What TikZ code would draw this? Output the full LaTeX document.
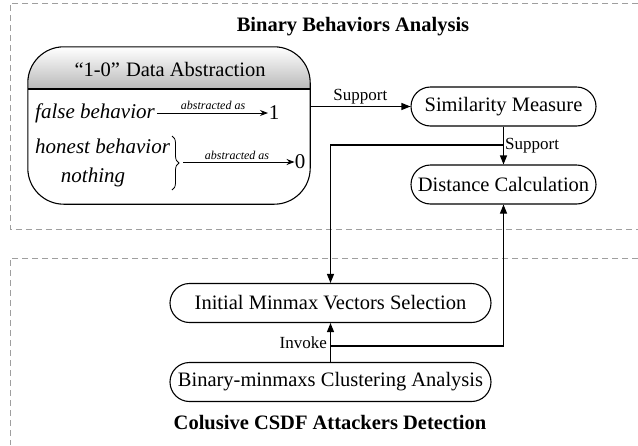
\documentclass[tikz,border=0pt]{standalone}
\usepackage{fontspec}
\setmainfont{Liberation Serif}
\usetikzlibrary{arrows.meta,decorations.pathreplacing}
\begin{document}
\begin{tikzpicture}[x=1pt,y=-1pt,
  pill/.style={draw,line width=1.1pt,rounded corners=19.5pt,minimum width=185pt,minimum height=39pt,inner sep=0pt,font=\fontsize{20.5}{24}\selectfont},
  widepill/.style={pill,minimum width=321pt},
  arr/.style={line width=1.1pt,-{Triangle[length=9pt,width=7pt]}},
  sarr/.style={line width=0.9pt,-{Stealth[length=8pt,width=6pt]}},
  lbl/.style={font=\fontsize{17}{20}\selectfont,inner sep=1pt},
  tiny/.style={font=\fontsize{12}{14}\itshape\selectfont,inner sep=1pt},
  itx/.style={font=\fontsize{21}{24}\itshape\selectfont,inner sep=0pt},
  ttl/.style={font=\fontsize{20.5}{24}\bfseries\selectfont},
  grp/.style={draw=gray!75,dash pattern=on 6pt off 4pt,line width=0.9pt}]
\useasboundingbox (0,0) rectangle (638,445);
% dashed groups
\draw[grp] (638,3) -- (10,3) -- (10,229) -- (638,229);
\draw[grp] (638,258) -- (10,258) -- (10,445);
\node[ttl] (t1) at (353,27) {Binary Behaviors Analysis};
\node[ttl] (t2) at (330,423) {Colusive CSDF Attackers Detection};
% 1-0 box
\node[minimum width=282pt,minimum height=157pt,inner sep=0pt] (abs) at (169,125.5) {};
\begin{scope}
\clip[rounded corners=36pt] (abs.north west) rectangle (abs.south east);
\shade[top color=white,bottom color=gray!55] (28,47) rectangle (310,89);
\end{scope}
\draw[line width=1.1pt] (28,89) -- (310,89);
\draw[line width=1.1pt,rounded corners=36pt] (abs.north west) rectangle (abs.south east);
\node[font=\fontsize{20.5}{24}\selectfont] (hd) at (170,69) {“1-0”\hspace{6pt}Data Abstraction};
\node[itx,anchor=west] (fb) at (35,113) {false behavior};
\node[font=\fontsize{21}{24}\selectfont,inner sep=0pt] (one) at (274,113) {1};
\draw[sarr] (fb.east) ++(2,0) coordinate (fbs) -- (268,113) coordinate (fbe);
\node[tiny] (a1) at (213,105) {abstracted as};
\node[itx,anchor=west] (hb) at (35,146) {honest behavior};
\node[itx] (no) at (93,177) {nothing};
\draw[line width=0.8pt,decorate,decoration={brace,amplitude=7pt}] (172,136) coordinate (br1) -- (172,190) coordinate (br2);
\node[font=\fontsize{21}{24}\selectfont,inner sep=0pt] (zero) at (300,162) {0};
\draw[sarr] (183,162) coordinate (zs) -- (zero.west);
\node[tiny] (a2) at (237,155) {abstracted as};
% right nodes
\node[pill] (sim) at (503.5,106.5) {Similarity Measure};
\node[pill] (dist) at (503.5,184.5) {Distance Calculation};
\node[widepill] (init) at (330.5,303) {Initial Minmax Vectors Selection};
\node[widepill] (bin) at (330.5,382) {Binary-minmaxs Clustering Analysis};
% connectors
\draw[arr] (abs.east |- sim.west) -- (sim.west) node[lbl,midway,above=1pt] {Support};
\draw[arr] (sim) -- (dist);
\node[lbl,anchor=west] (s2) at (504,146) {Support};
\coordinate (j1) at (503.5,145);
\draw[arr] (j1) -| (init.north);
\draw[arr] (bin) -- (init);
\node[lbl,anchor=east] (inv) at (328,343) {Invoke};
\coordinate (j2) at (330.5,346);
\draw[arr] (j2) -| (dist.south);
\end{tikzpicture}
\end{document}
